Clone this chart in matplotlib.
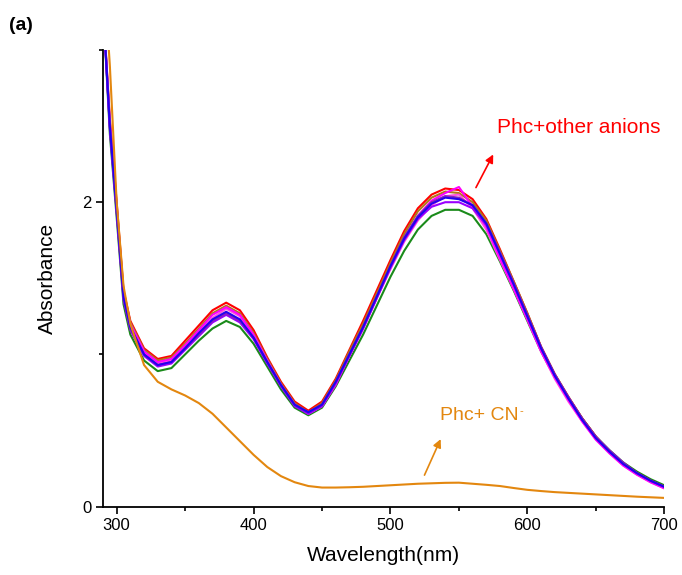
import matplotlib
matplotlib.use("Agg")
import numpy as np
from matplotlib import pyplot as plt
from matplotlib.ticker import MultipleLocator

plt.rcParams['font.family'] = ['Liberation Sans', 'DejaVu Sans']

wl = [290, 295, 300, 305, 310, 320, 330, 340, 350, 360, 370, 380, 390, 400, 410,
      420, 430, 440, 450, 460, 470, 480, 490, 500, 510, 520, 530, 540, 550, 560,
      570, 580, 590, 600, 610, 620, 630, 640, 650, 660, 670, 680, 690, 700]

# Phc + other anions (one spectrum per anion)
green = [3.3, 2.45, 1.9, 1.33, 1.13, 0.96, 0.89, 0.91, 1.0, 1.09, 1.17, 1.22, 1.18, 1.07, 0.92,
         0.77, 0.65, 0.60, 0.65, 0.79, 0.96, 1.13, 1.32, 1.51, 1.68, 1.82, 1.91, 1.95, 1.95, 1.91,
         1.79, 1.61, 1.42, 1.22, 1.02, 0.85, 0.71, 0.58, 0.46, 0.37, 0.29, 0.23, 0.18, 0.14]
red = [3.3, 2.55, 2.0, 1.42, 1.22, 1.04, 0.97, 0.99, 1.09, 1.19, 1.29, 1.34, 1.29, 1.16, 0.98,
       0.82, 0.69, 0.63, 0.69, 0.84, 1.03, 1.22, 1.42, 1.62, 1.81, 1.96, 2.05, 2.09, 2.08, 2.02,
       1.89, 1.69, 1.48, 1.27, 1.05, 0.87, 0.72, 0.58, 0.46, 0.36, 0.28, 0.22, 0.17, 0.13]
olive = [3.3, 2.53, 1.98, 1.41, 1.21, 1.03, 0.96, 0.98, 1.07, 1.17, 1.27, 1.32, 1.27, 1.14, 0.97,
         0.81, 0.68, 0.62, 0.68, 0.83, 1.02, 1.2, 1.4, 1.6, 1.79, 1.94, 2.03, 2.07, 2.06, 2.0,
         1.88, 1.68, 1.48, 1.27, 1.05, 0.87, 0.72, 0.58, 0.46, 0.36, 0.28, 0.22, 0.17, 0.13]
pink = [3.3, 2.5, 1.96, 1.39, 1.19, 1.01, 0.94, 0.96, 1.05, 1.15, 1.24, 1.3, 1.25, 1.12, 0.95,
        0.8, 0.67, 0.61, 0.66, 0.81, 0.99, 1.17, 1.37, 1.56, 1.74, 1.88, 1.98, 2.04, 2.05, 1.96,
        1.82, 1.62, 1.43, 1.23, 1.02, 0.84, 0.69, 0.56, 0.44, 0.35, 0.27, 0.21, 0.16, 0.12]
magenta = [3.3, 2.52, 1.97, 1.4, 1.2, 1.02, 0.95, 0.97, 1.06, 1.16, 1.26, 1.31, 1.26, 1.13, 0.96,
           0.8, 0.67, 0.61, 0.66, 0.8, 0.99, 1.17, 1.37, 1.57, 1.76, 1.91, 2.01, 2.06, 2.1, 1.97,
           1.84, 1.63, 1.43, 1.23, 1.02, 0.85, 0.7, 0.56, 0.44, 0.35, 0.27, 0.21, 0.16, 0.12]
violet = [3.3, 2.48, 1.93, 1.36, 1.16, 0.99, 0.92, 0.94, 1.03, 1.12, 1.21, 1.26, 1.21, 1.1, 0.94,
          0.79, 0.66, 0.61, 0.66, 0.81, 0.99, 1.17, 1.37, 1.57, 1.75, 1.89, 1.97, 2.0, 2.0, 1.96,
          1.85, 1.66, 1.46, 1.25, 1.04, 0.86, 0.71, 0.57, 0.45, 0.36, 0.28, 0.22, 0.17, 0.13]
purple = [3.3, 2.5, 1.94, 1.37, 1.17, 1.0, 0.93, 0.95, 1.04, 1.13, 1.22, 1.27, 1.22, 1.11, 0.95,
          0.8, 0.67, 0.62, 0.67, 0.82, 1.0, 1.18, 1.38, 1.58, 1.77, 1.91, 2.0, 2.04, 2.03, 1.98,
          1.86, 1.67, 1.47, 1.26, 1.05, 0.87, 0.72, 0.58, 0.46, 0.37, 0.29, 0.22, 0.17, 0.13]
blue = [3.3, 2.5, 1.95, 1.38, 1.18, 1.0, 0.93, 0.95, 1.04, 1.14, 1.23, 1.28, 1.23, 1.11, 0.95,
        0.8, 0.67, 0.62, 0.67, 0.82, 1.0, 1.18, 1.38, 1.58, 1.76, 1.9, 1.99, 2.03, 2.02, 1.98,
        1.86, 1.66, 1.46, 1.25, 1.04, 0.86, 0.71, 0.57, 0.45, 0.36, 0.28, 0.22, 0.17, 0.13]

# Phc + CN-
cn = [3.6, 2.9, 2.0, 1.45, 1.2, 0.93, 0.82, 0.77, 0.73, 0.68, 0.61, 0.52, 0.43, 0.34, 0.26,
      0.2, 0.16, 0.135, 0.125, 0.125, 0.127, 0.13, 0.135, 0.14, 0.145, 0.15, 0.153, 0.156, 0.157, 0.15,
      0.143, 0.135, 0.122, 0.11, 0.102, 0.095, 0.09, 0.085, 0.08, 0.075, 0.07, 0.065, 0.061, 0.057]

others = [(green, '#1a8a1a'), (red, '#ff0000'), (olive, '#b07818'), (pink, '#ff55dd'),
          (magenta, '#ff00ff'), (violet, '#9900ff'), (purple, '#8822bb'), (blue, '#2200ee')]
cn_color = '#e3870f'

fig = plt.figure(figsize=(6.82, 5.75), dpi=100)
ax = fig.add_axes([0.151, 0.119, 0.823, 0.794])

for vals, col in others:
    ax.plot(wl, vals, color=col, lw=1.5)
ax.plot(wl, cn, color=cn_color, lw=1.5)

ax.set_xlim(290, 700)
ax.set_ylim(0, 3)
ax.xaxis.set_major_locator(MultipleLocator(100))
ax.xaxis.set_minor_locator(MultipleLocator(50))
ax.yaxis.set_major_locator(MultipleLocator(2))
ax.yaxis.set_minor_locator(MultipleLocator(1))
ax.tick_params(which='major', direction='out', length=5, width=1.2, labelsize=12)
ax.tick_params(which='minor', direction='out', length=3, width=1.2)
for s in ['top', 'right']:
    ax.spines[s].set_visible(False)
for s in ['left', 'bottom']:
    ax.spines[s].set_linewidth(1.3)

ax.set_xlabel("Wavelength(nm)", fontsize=15, labelpad=9)
ax.set_ylabel("Absorbance", fontsize=15, labelpad=18)

ax.annotate("", xy=(576, 2.33), xytext=(561.5, 2.08),
            arrowprops=dict(arrowstyle='-|>', color='red', lw=1.2, mutation_scale=12))
ax.text(578, 2.49, "Phc+other anions", color='red', fontsize=15, va='center')

ax.annotate("", xy=(537.5, 0.46), xytext=(524, 0.19),
            arrowprops=dict(arrowstyle='-|>', color=cn_color, lw=1.2, mutation_scale=12))
t = ax.text(536, 0.60, "Phc+ CN", color=cn_color, fontsize=14, va='center')
ax.annotate("-", xy=(1.0, 1.0), xycoords=t, xytext=(1, -5), textcoords='offset points',
            color=cn_color, fontsize=8, ha='left', va='baseline')

fig.text(0.013, 0.955, "(a)", fontsize=14, fontweight='bold', va='center')

fig.savefig("out.png", dpi=100)
